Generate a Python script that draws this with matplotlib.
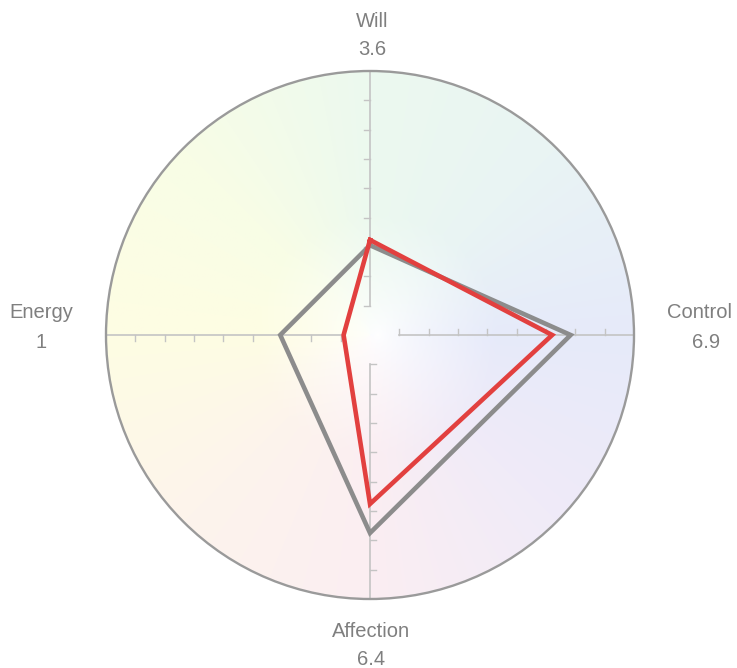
import matplotlib.pyplot as plt
import numpy as np
from matplotlib.colors import to_rgb
from matplotlib.patches import Circle

plt.rcParams['font.family'] = ['Liberation Sans', 'DejaVu Sans']

# data
axis_names = ['Will', 'Control', 'Affection', 'Energy']
axis_angles = [90, 0, 270, 180]          # degrees, 0 = right
value_labels = ['3.6', '6.9', '6.4', '1']
red_values = [3.6, 6.9, 6.4, 1.0]
gray_values = [3.4, 7.6, 7.5, 3.4]
max_value = 10
n_ticks = 9

# pixel layout
PX = 26.4                 # pixels per unit
CX, CY = 370, 335         # centre in pixels
W, H = 737, 668

fig = plt.figure(figsize=(W / 100, H / 100), dpi=100)
ax = fig.add_axes([0, 0, 1, 1])
ax.set_xlim(-CX / PX, (W - CX) / PX)
ax.set_ylim(-(H - CY) / PX, CY / PX)
ax.axis('off')

# soft colour-wheel background
stop_angles = [0, 45, 90, 135, 180, 225, 270, 315, 360]
stop_colors = ['#e6eafa', '#e9f4f4', '#ecf9ef', '#f8fde6', '#fefde3',
               '#fdf4ec', '#fbeef2', '#f0ebf8', '#e6eafa']
rgb_stops = np.array([to_rgb(c) for c in stop_colors])

g = np.linspace(-max_value, max_value, 500)
gx, gy = np.meshgrid(g, g[::-1])
ang = np.degrees(np.arctan2(gy, gx)) % 360
rad = np.hypot(gx - 0.3, gy) / max_value
img = np.zeros(gx.shape + (3,))
for ch in range(3):
    img[..., ch] = np.interp(ang, stop_angles, rgb_stops[:, ch])
f = np.clip(rad * 2.2, 0, 1) ** 0.7
img = 1 - (1 - img) * f[..., None]

bg = ax.imshow(img, extent=(-max_value, max_value, -max_value, max_value),
               interpolation='bilinear', zorder=0)
clip = Circle((0, 0), max_value, transform=ax.transData)
bg.set_clip_path(clip)

ax.add_patch(Circle((0, 0), max_value, fill=False, edgecolor='#9a9a9a',
                    linewidth=1.7, zorder=3))

# axes with ticks
tick_len = 0.22
for a in axis_angles:
    t = np.radians(a)
    d = np.array([np.cos(t), np.sin(t)])
    perp = np.array([-np.sin(t), np.cos(t)])
    r0 = max_value / n_ticks
    ax.plot([r0 * d[0], max_value * d[0]], [r0 * d[1], max_value * d[1]],
            color='#c4c4c4', linewidth=1.2, zorder=1)
    for k in range(1, n_ticks):
        p = k * max_value / n_ticks * d
        q = p + tick_len * perp
        ax.plot([p[0], q[0]], [p[1], q[1]], color='#c4c4c4',
                linewidth=1.0, zorder=1)


def polygon(values):
    t = np.radians(axis_angles + axis_angles[:1])
    v = np.array(values + values[:1])
    return v * np.cos(t), v * np.sin(t)


gx_, gy_ = polygon(gray_values)
ax.plot(gx_, gy_, color='#8c8c8c', linewidth=3.3, solid_joinstyle='miter',
        zorder=4)
rx_, ry_ = polygon(red_values)
ax.plot(rx_, ry_, color='#e2403f', linewidth=3.3, solid_joinstyle='miter',
        zorder=5)

# labels (baseline positions in pixels)
label_pos = {
    'Will': ((372, 27), (372, 55)),
    'Control': ((700, 318), (706, 348)),
    'Affection': ((371, 637), (371, 665)),
    'Energy': ((41, 318), (41, 348)),
}
for name, val in zip(axis_names, value_labels):
    (nx, ny), (vx, vy) = label_pos[name]
    ax.text((nx - CX) / PX, (CY - ny) / PX, name, ha='center', va='baseline',
            fontsize=14.5, color='#7f7f7f')
    ax.text((vx - CX) / PX, (CY - vy) / PX, val, ha='center', va='baseline',
            fontsize=14.5, color='#7f7f7f')

fig.savefig('out.png', dpi=100, facecolor='white')
